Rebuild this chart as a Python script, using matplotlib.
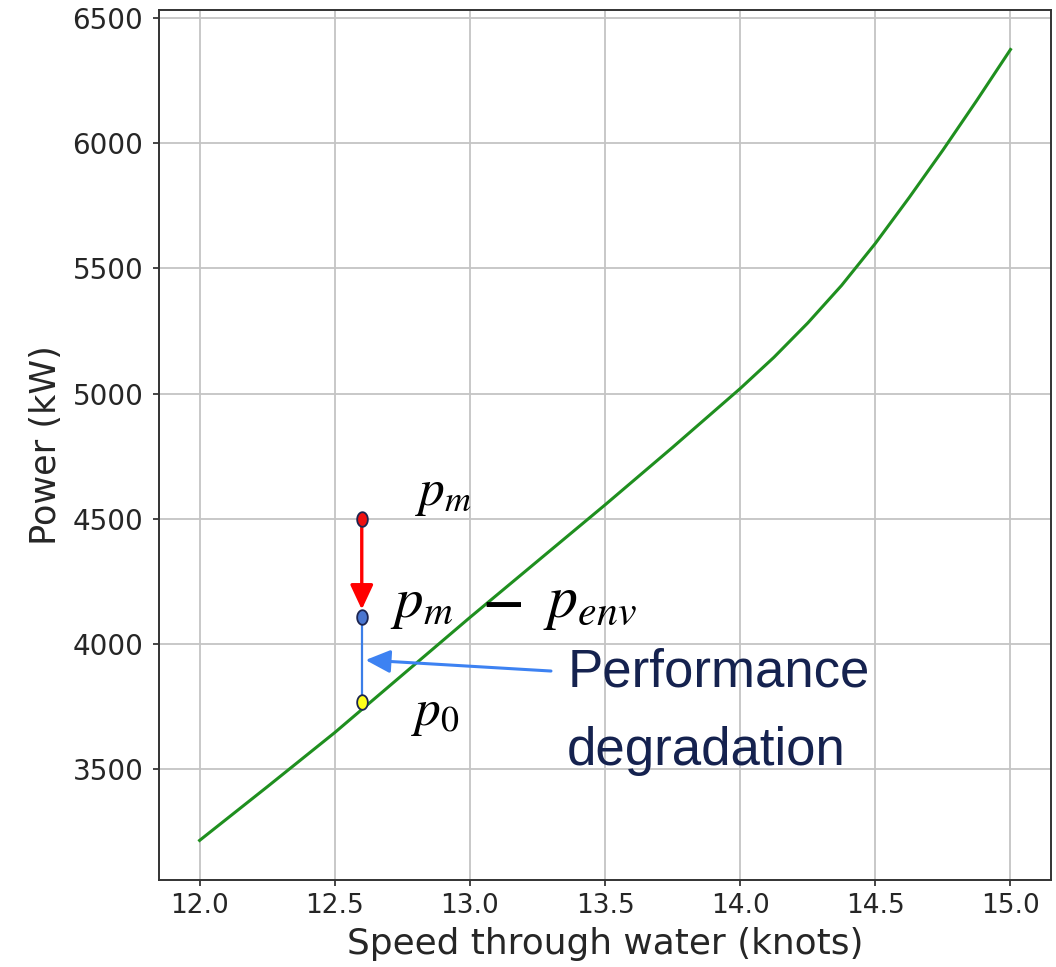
import numpy as np
import matplotlib
matplotlib.use("Agg")
import matplotlib.pyplot as plt
from matplotlib.path import Path

plt.rcParams['font.family'] = ['DejaVu Sans']
plt.rcParams['mathtext.fontset'] = 'stix'

# ---- data ----
speed = [12.0, 12.25, 12.5, 12.75, 13.0, 13.25, 13.5, 13.75, 14.0,
         14.125, 14.25, 14.375, 14.5, 14.625, 14.75, 14.875, 15.0]
power = [3214, 3428, 3645, 3875, 4105, 4330, 4555, 4785, 5020,
         5145, 5282, 5432, 5600, 5783, 5973, 6171, 6375]

v_point = 12.6
p_m_val = 4500
p_corr_val = 4108
p_0_val = 3768

x_ticks = [12.0, 12.5, 13.0, 13.5, 14.0, 14.5, 15.0]
y_ticks = [3500, 4000, 4500, 5000, 5500, 6000, 6500]

navy = '#15224f'

fig = plt.figure(figsize=(10.56, 9.67), dpi=100)
ax = fig.add_axes([0.1506, 0.0900, 0.8447, 0.8997])

ax.grid(True, color='#c4c4c4', linewidth=1.3)
ax.set_axisbelow(True)

ax.plot(speed, power, color='#1f8f1f', linewidth=2.2, zorder=2)

# ellipse marker
th = np.linspace(0, 2 * np.pi, 80)
ell = Path(np.column_stack([0.73 * np.cos(th), np.sin(th)]), closed=True)

# blue vertical line (degradation)
ax.plot([v_point, v_point], [p_corr_val, p_0_val], color='#3b7ee8', linewidth=1.6, zorder=3)

# red arrow
ax.annotate('', xy=(v_point, 4137), xytext=(v_point, p_m_val - 15),
            arrowprops=dict(arrowstyle='-|>,head_length=0.75,head_width=0.35',
                            color='#ff0000', lw=2.4, mutation_scale=20,
                            shrinkA=0, shrinkB=0), zorder=4)

# blue arrow
ax.annotate('', xy=(12.614, 3935), xytext=(13.30, 3891),
            arrowprops=dict(arrowstyle='-|>,head_length=0.75,head_width=0.35',
                            color='#3d82f2', lw=2.2, mutation_scale=20,
                            shrinkA=0, shrinkB=0), zorder=4)

for val, fc in [(p_m_val, '#ee1111'), (p_corr_val, '#4a76d0'), (p_0_val, '#ffff1a')]:
    ax.plot([v_point], [val], marker=ell, markersize=10.5, markerfacecolor=fc,
            markeredgecolor='#1c2550', markeredgewidth=1.3, linestyle='none', zorder=5)

# math labels
ax.text(12.797, 4553, r'$p_m$', fontsize=37, ha='left', va='baseline', zorder=6)
ax.text(12.704, 4108, r'$p_m$', fontsize=41, ha='left', va='baseline', zorder=6)
ax.text(13.118, 4108, r'$\mathbf{-}$', fontsize=40, ha='center', va='baseline', zorder=6)
ax.text(13.272, 4108, r'$p_{env}$', fontsize=43, ha='left', va='baseline', zorder=6)
ax.text(12.783, 3676, r'$p_0$', fontsize=37, ha='left', va='baseline', zorder=6)

# description
ax.text(13.36, 3830, 'Performance', fontsize=38, family='Liberation Sans',
        color=navy, ha='left', va='baseline', zorder=6)
ax.text(13.36, 3516, 'degradation', fontsize=38, family='Liberation Sans',
        color=navy, ha='left', va='baseline', zorder=6)

ax.set_xticks(x_ticks)
ax.set_yticks(y_ticks)
ax.set_xticklabels([f'{t:.1f}' for t in x_ticks])
ax.set_yticklabels([str(t) for t in y_ticks])
ax.margins(x=0.05, y=0.05)

ax.tick_params(axis='both', length=4.3, width=1.2, colors='#262626')
ax.tick_params(axis='y', pad=7, labelsize=20)
ax.tick_params(axis='x', pad=5, labelsize=19)
for s in ax.spines.values():
    s.set_linewidth(1.4)
    s.set_color('#333333')

ax.set_xlabel('Speed through water (knots)', fontsize=25.8, color='#262626', labelpad=6)
ax.set_ylabel('Power (kW)', fontsize=25.3, color='#262626', labelpad=7)

fig.savefig('out.png', dpi=100)
